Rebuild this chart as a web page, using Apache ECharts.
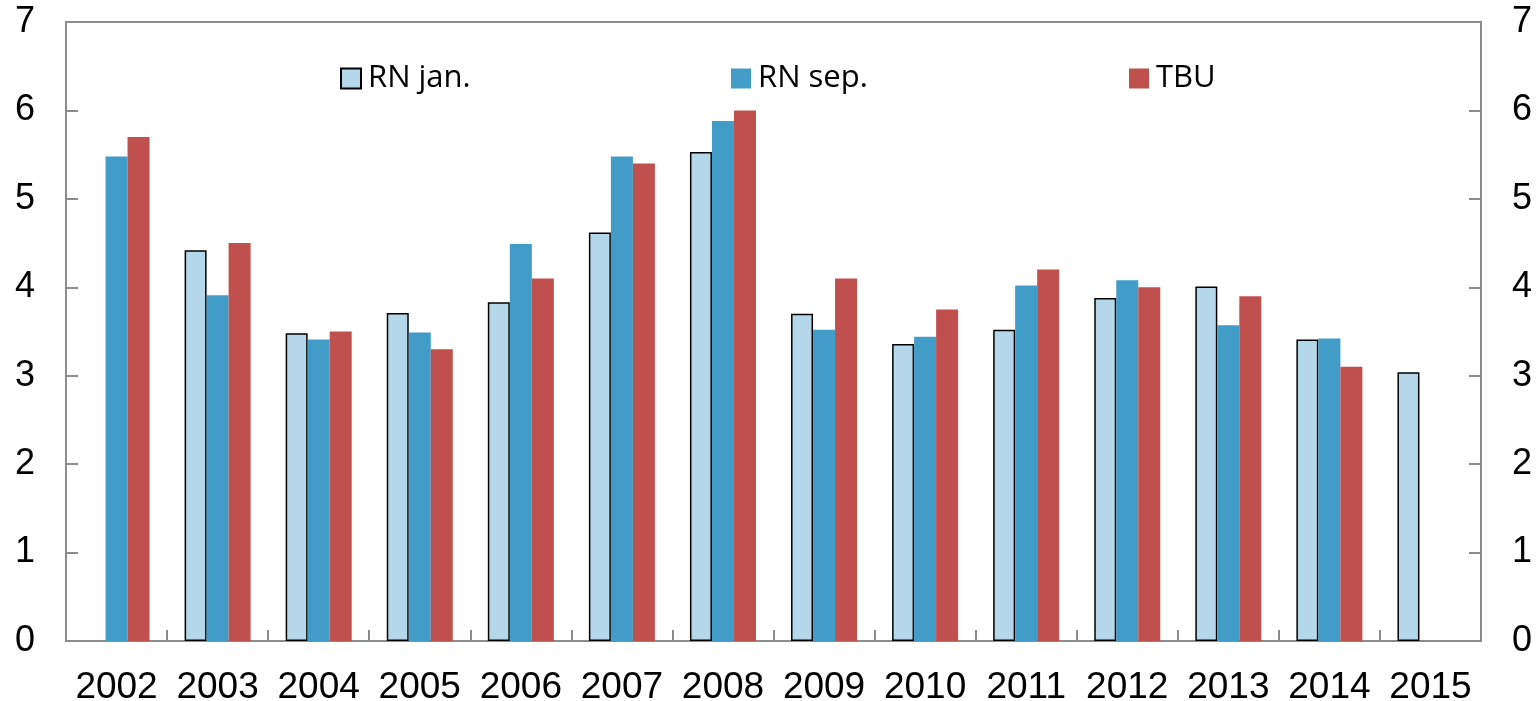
<!DOCTYPE html>
<html>
<head>
<meta charset="utf-8">
<script src="https://cdn.jsdelivr.net/npm/echarts@6/dist/echarts.min.js"></script>
<style>
html,body{margin:0;padding:0;background:#fff;}
#chart{width:1538px;height:701px;}
</style>
</head>
<body>
<div id="chart"></div>
<script>
const years = ['2002','2003','2004','2005','2006','2007','2008','2009','2010','2011','2012','2013','2014','2015'];
const rnJan = [null, 4.42, 3.48, 3.71, 3.83, 4.62, 5.53, 3.70, 3.36, 3.52, 3.88, 4.01, 3.41, 3.04];
const rnSep = [5.48, 3.91, 3.41, 3.49, 4.49, 5.48, 5.88, 3.52, 3.44, 4.02, 4.08, 3.57, 3.42, null];
const tbu   = [5.70, 4.50, 3.50, 3.30, 4.10, 5.40, 6.00, 4.10, 3.75, 4.20, 4.00, 3.90, 3.10, null];
const seriesNames = ['RN jan.', 'RN sep.', 'TBU'];
const yTicks = [0, 1, 2, 3, 4, 5, 6, 7];

const axisGray = '#8c8c8c';
const numFont = 'Liberation Sans, Arial, sans-serif';
const legFont = 'Open Sans, Noto Sans, sans-serif';

function yAx(pos) {
  return {
    type: 'value', position: pos, min: yTicks[0], max: yTicks[yTicks.length - 1], interval: 1,
    axisLine: { show: true, lineStyle: { color: axisGray, width: 2 } },
    axisTick: { show: true, inside: true, length: 12, lineStyle: { color: axisGray, width: 2 } },
    splitLine: { show: false },
    axisLabel: { margin: 31, fontSize: 36, color: '#000', fontFamily: numFont }
  };
}
function leg(name, left) {
  return {
    data: [name], left: left, top: 58, icon: 'rect', itemWidth: 20, itemHeight: 20, itemGap: 10,
    textStyle: { fontSize: 31, lineHeight: 31, color: '#000', fontFamily: legFont, padding: [0, 0, 0, 2] }
  };
}

const chart = echarts.init(document.getElementById('chart'), null, { renderer: 'canvas' });
chart.setOption({
  animation: false,
  backgroundColor: '#fff',
  grid: { left: 66, right: 57, top: 22, bottom: 60, containLabel: false, outerBoundsMode: 'none',
          show: true, borderColor: axisGray, borderWidth: 2, backgroundColor: 'transparent' },
  legend: [leg(seriesNames[0], 335), leg(seriesNames[1], 726), leg(seriesNames[2], 1124)],
  xAxis: {
    type: 'category', data: years,
    axisLine: { show: true, lineStyle: { color: axisGray, width: 2 } },
    axisTick: { show: true, inside: true, length: 11, alignWithLabel: false, lineStyle: { color: axisGray, width: 2 } },
    axisLabel: { margin: 28, fontSize: 37, color: '#000', fontFamily: numFont, interval: 0 },
    splitLine: { show: false }
  },
  yAxis: [yAx('left'), yAx('right')],
  series: [
    { name: seriesNames[0], type: 'bar', data: rnJan, barWidth: 22, barGap: '0%',
      itemStyle: { color: '#b4d7e9', borderColor: '#000', borderWidth: 1.5 } },
    { name: seriesNames[1], type: 'bar', data: rnSep, barWidth: 22, barGap: '0%',
      itemStyle: { color: '#429cc8' } },
    { name: seriesNames[2], type: 'bar', data: tbu, barWidth: 22, barGap: '0%',
      itemStyle: { color: '#c0504d' } }
  ]
});
</script>
</body>
</html>
